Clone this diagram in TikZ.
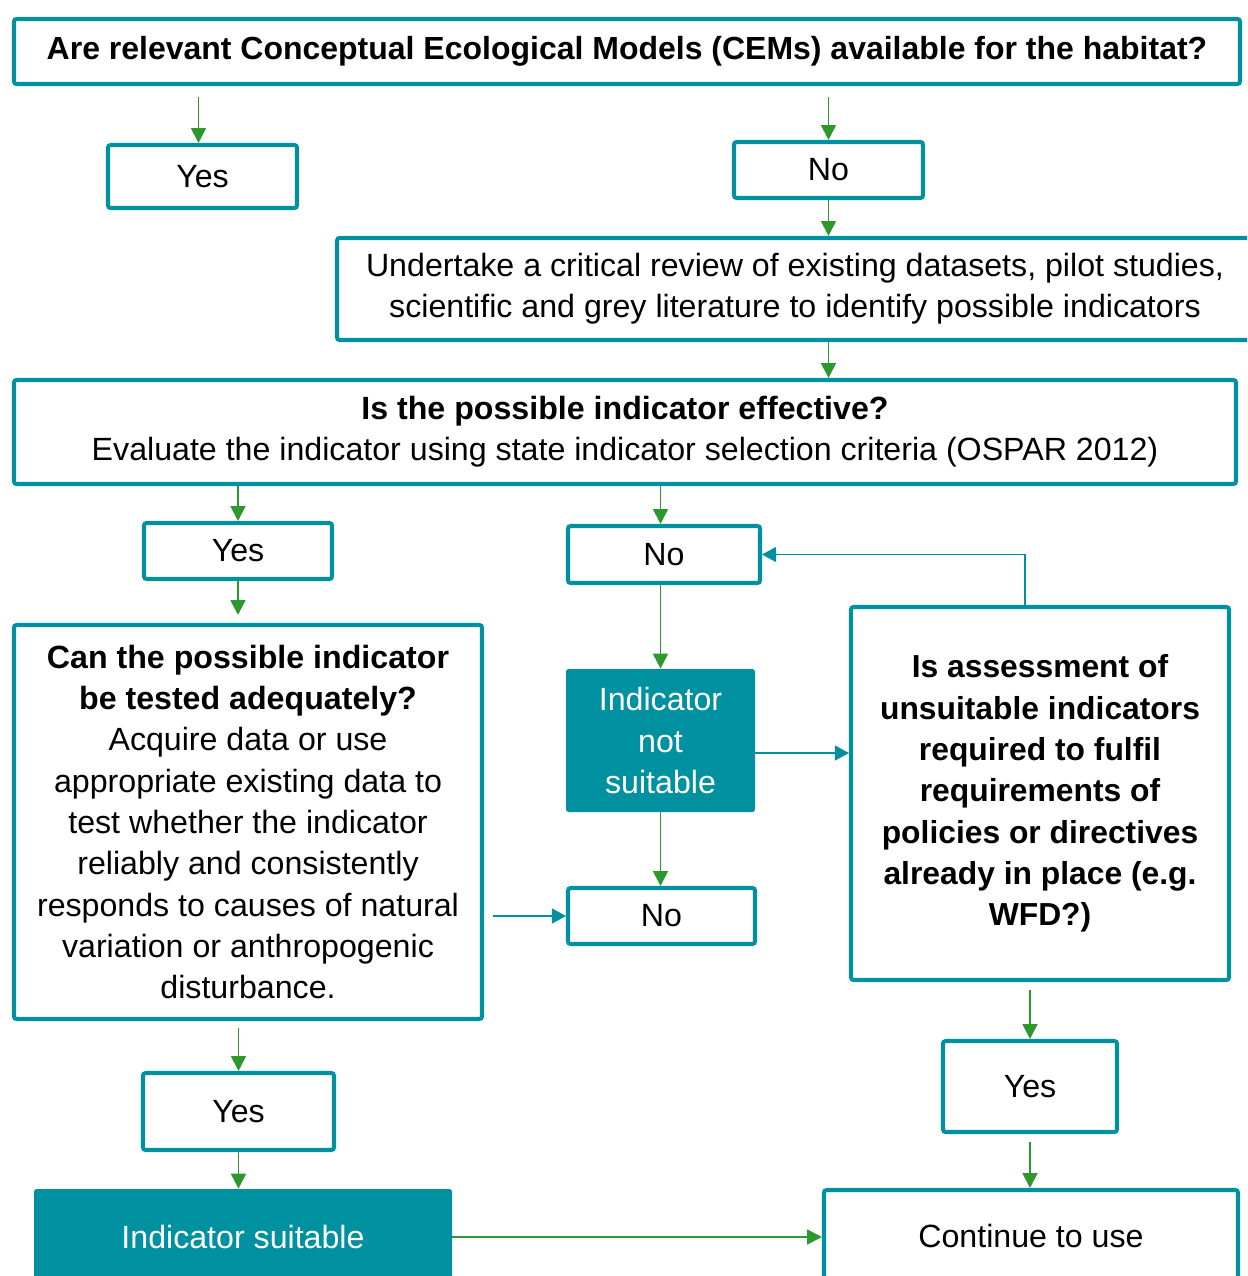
\documentclass[tikz,border=0pt]{standalone}
\usepackage{fontspec}
\setmainfont{Liberation Sans}
\usepackage{tikz}
\usetikzlibrary{arrows.meta,calc,positioning}
\usepackage{xcolor}
\definecolor{boxteal}{RGB}{0,145,161}
\definecolor{flowgreen}{RGB}{45,152,45}

\begin{document}
\begin{tikzpicture}[
  every node/.style={font=\fontsize{18.3}{23.5}\selectfont, align=center, inner sep=0pt},
  qbox/.style={draw=boxteal, line width=2.3pt, rounded corners=1.5pt, fill=white},
  fbox/.style={fill=boxteal, rounded corners=1.5pt, text=white},
  garrow/.style={draw=flowgreen, line width=1.1pt, -{Triangle[length=8.5pt,width=8.5pt]}},
  tarrow/.style={draw=boxteal, line width=0.9pt, -{Triangle[length=8pt,width=8.5pt]}}]
  \useasboundingbox (0,0) rectangle (24.94,-25.52);
  \clip (0,0) rectangle (24.94,-25.52);
  % question boxes
  \node[qbox, minimum width=24.52cm, minimum height=1.30cm, font=\fontsize{18.2}{22}\selectfont\bfseries]
    (title) at (12.54,-1.03) {Are relevant Conceptual Ecological Models (CEMs) available for the habitat?};
  \node[qbox, minimum width=3.78cm, minimum height=1.26cm] (yes1) at (4.05,-3.53) {Yes};
  \node[qbox, minimum width=3.78cm, minimum height=1.12cm] (no1) at (16.57,-3.40) {No};
  \node[qbox, minimum width=18.32cm, minimum height=2.04cm] (review) at (15.90,-5.78)
    {Undertake a critical review of existing datasets, pilot studies,\\scientific and grey literature to identify possible indicators};
  \node[qbox, minimum width=24.44cm, minimum height=2.08cm] (effect) at (12.50,-8.64)
    {\textbf{Is the possible indicator effective?}\\Evaluate the indicator using state indicator selection criteria (OSPAR 2012)};
  \node[qbox, minimum width=3.76cm, minimum height=1.12cm] (yes2) at (4.76,-11.02) {Yes};
  \node[qbox, minimum width=3.84cm, minimum height=1.14cm] (no2) at (13.28,-11.09) {No};
  \node[qbox, minimum width=9.36cm, minimum height=7.88cm] (tested) at (4.96,-16.44)
    {\textbf{Can the possible indicator}\\\textbf{be tested adequately?}\\Acquire data or use\\appropriate existing data to\\test whether the indicator\\reliably and consistently\\responds to causes of natural\\variation or anthropogenic\\disturbance.};
  \node[fbox, minimum width=3.78cm, minimum height=2.86cm] (notsuit) at (13.21,-14.81)
    {Indicator\\not\\suitable};
  \node[qbox, minimum width=7.56cm, minimum height=7.46cm, font=\fontsize{18.1}{23.5}\selectfont\bfseries]
    (assess) at (20.80,-15.87)
    {Is assessment of\\unsuitable indicators\\required to fulfil\\requirements of\\policies or directives\\already in place (e.g.\\WFD?)};
  \node[qbox, minimum width=3.74cm, minimum height=1.12cm] (no3) at (13.23,-18.32) {No};
  \node[qbox, minimum width=3.82cm, minimum height=1.54cm] (yes3) at (4.77,-22.23) {Yes};
  \node[qbox, minimum width=3.48cm, minimum height=1.82cm] (yes4) at (20.60,-21.73) {Yes};
  \node[fbox, minimum width=8.36cm, minimum height=1.92cm] (suit) at (4.86,-24.74) {Indicator suitable};
  \node[qbox, minimum width=8.28cm, minimum height=1.84cm] (cont) at (20.62,-24.72) {Continue to use};
  % green flow
  \draw[garrow, shorten <=0.22cm] ([xshift=-0.08cm]title.south -| yes1.north) -- ([xshift=-0.08cm]yes1.north);
  \draw[garrow, shorten <=0.22cm] (title.south -| no1.north) -- (no1.north);
  \draw[garrow] (no1.south) -- (no1.south |- review.north);
  \draw[garrow] (review.south -| no1.south) -- (effect.north -| no1.south);
  \draw[garrow] (effect.south -| yes2.north) -- (yes2.north);
  \draw[garrow] (effect.south -| notsuit.north) -- (no2.north -| notsuit.north);
  \draw[garrow] (no2.south -| notsuit.north) -- (notsuit.north);
  \draw[garrow] (notsuit.south) -- (no3.north -| notsuit.south);
  \draw[garrow, shorten >=0.16cm] (yes2.south) -- (tested.north -| yes2.south);
  \draw[garrow, shorten <=0.14cm] (tested.south -| yes3.north) -- (yes3.north);
  \draw[garrow] (yes3.south) -- (suit.north -| yes3.south);
  \draw[garrow, shorten <=0.16cm] (assess.south -| yes4.north) -- (yes4.north);
  \draw[garrow, shorten <=0.16cm] (yes4.south) -- (cont.north -| yes4.south);
  \draw[garrow] (suit.east) -- (suit.east -| cont.west);
  % teal returns
  \draw[tarrow, shorten <=0.18cm] (tested.east |- no3.west) -- (no3.west);
  \draw[tarrow] ([yshift=-0.25cm]notsuit.east) -- ([yshift=-0.25cm]notsuit.east -| assess.west);
  \draw[tarrow] ([xshift=-0.3cm]assess.north) |- (no2.east);
\end{tikzpicture}
\end{document}
